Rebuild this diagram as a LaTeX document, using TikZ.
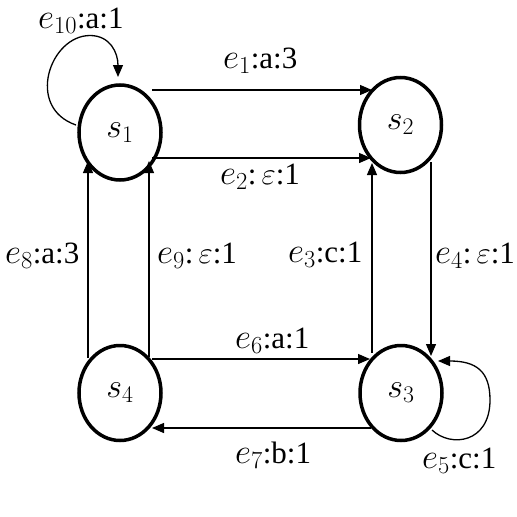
\documentclass[tikz,border=0pt]{standalone}
\usepackage{fix-cm}
\usepackage{fontspec}
\setmainfont{Liberation Serif}
\newfontfamily\labfont{Liberation Serif}
\newcommand\edgename[1]{{\fontsize{35}{38}\selectfont$e_{#1}$}}
\usetikzlibrary{shapes.geometric,arrows.meta,calc}
\begin{document}
\begin{tikzpicture}[x=1pt,y=-1pt,
  state/.style={ellipse,draw,line width=3.5pt,inner sep=0pt,minimum width=82pt,minimum height=95pt,font=\labfont\fontsize{34}{38}\selectfont},
  edge/.style={line width=1.3pt,-{Triangle[length=12pt,width=10pt]}},
  lab/.style={anchor=base west,inner sep=0pt,font=\labfont\fontsize{31}{36}\selectfont}]
\useasboundingbox (0,0) rectangle (517,517);
\node[state] (s1) at (120,132.5) {$s_1$};
\node[state] (s2) at (400.5,125) {$s_2$};
\node[state] (s3) at (401,393) {$s_3$};
\node[state] (s4) at (120,393) {$s_4$};
% edges
\draw[edge] ($(s1)+(32,-42.5)$) -- ($(s2)+(-28.5,-35)$);
\draw[edge] ($(s1)+(32,25.5)$) -- ($(s2)+(-29.5,33)$);
\draw[edge] ($(s3)+(-29,-40)$) -- ($(s2)+(-28.5,38)$);
\draw[edge] ($(s2)+(30.5,37)$) -- ($(s3)+(30,-37)$);
\draw[edge] ($(s4)+(32,-34)$) -- ($(s3)+(-31,-34)$);
\draw[edge] ($(s3)+(-30,35)$) -- ($(s4)+(32,35)$);
\draw[edge] ($(s4)+(-32,-35)$) -- ($(s1)+(-32,28.5)$);
\draw[edge] ($(s4)+(29,-36)$) -- ($(s1)+(29,28.5)$);
% loops
\draw[edge] ($(s1)+(-44,-7.5)$) .. controls ($(s1)+(-95,-25)$) and ($(s1)+(-70,-97)$) .. ($(s1)+(-30,-97)$)
  .. controls ($(s1)+(-10,-97)$) and ($(s1)+(-2,-80)$) .. ($(s1)+(-2,-55.5)$);
\draw[edge] ($(s3)+(31,37)$) .. controls ($(s3)+(50,55)$) and ($(s3)+(89,50)$) .. ($(s3)+(89,7)$)
  .. controls ($(s3)+(89,-22)$) and ($(s3)+(75,-32)$) .. ($(s3)+(37,-32)$);
% labels
\node[lab] (l10) at (38,28) {\edgename{10}:a:1};
\node[lab] (l1) at (223,68) {\edgename{1}:a:3};
\node[lab] (l2) at (220,184) {\edgename{2}:\,$\varepsilon$:1};
\node[lab] (l8) at (5,263) {\edgename{8}:a:3};
\node[lab] (l9) at (157,263) {\edgename{9}:\,$\varepsilon$:1};
\node[lab] (l3) at (288,262) {\edgename{3}:c:1};
\node[lab] (l4) at (435,263) {\edgename{4}:\,$\varepsilon$:1};
\node[lab] (l6) at (235,348) {\edgename{6}:a:1};
\node[lab] (l7) at (235,463) {\edgename{7}:b:1};
\node[lab] (l5) at (422,468) {\edgename{5}:c:1};
\end{tikzpicture}
\end{document}
